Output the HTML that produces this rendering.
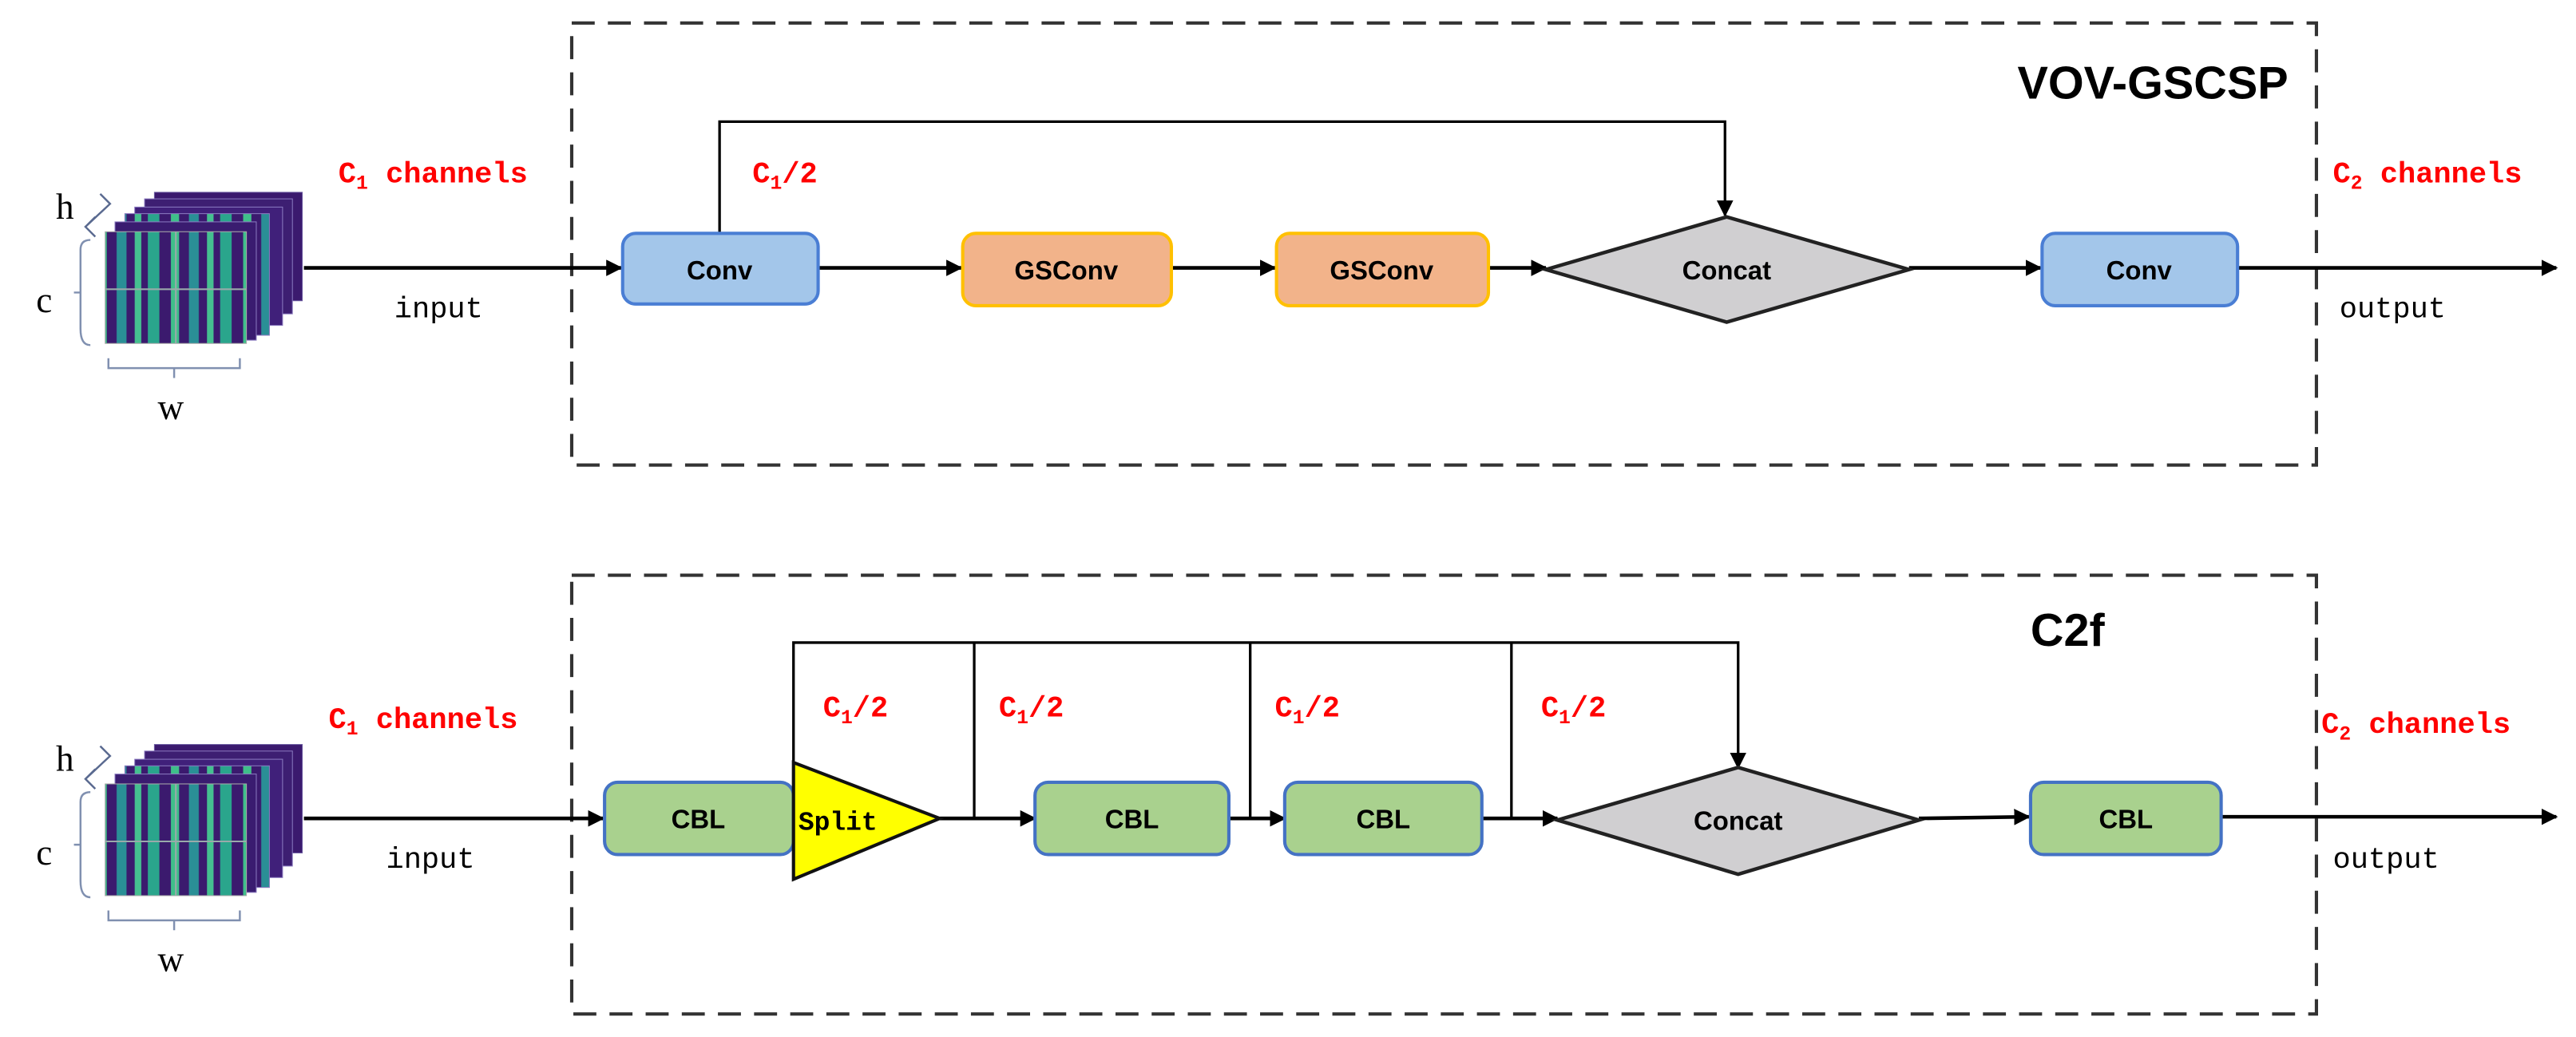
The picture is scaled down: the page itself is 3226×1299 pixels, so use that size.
<!DOCTYPE html>
<html><head><meta charset="utf-8"><style>
html,body{margin:0;padding:0;background:#fff;width:3226px;height:1299px;overflow:hidden}
svg{display:block}
.lab{font-family:"Liberation Mono",monospace;font-weight:bold;fill:#f00;font-size:18px}
.io{font-family:"Liberation Mono",monospace;fill:#000;font-size:18px}
.bx{font-family:"Liberation Sans",sans-serif;font-weight:bold;font-size:16px;fill:#000;text-anchor:middle}
.dim{font-family:"Liberation Serif",serif;font-size:22px;fill:#000}
</style></head><body>
<svg width="3226" height="1299" viewBox="0 0 1568 631" preserveAspectRatio="none" xmlns="http://www.w3.org/2000/svg">
<defs>
<marker id="ar" markerWidth="10" markerHeight="10" refX="9" refY="5" orient="auto" markerUnits="userSpaceOnUse"><path d="M0,0 L10,5 L0,10 z" fill="#000"/></marker>
<pattern id="st" width="44" height="10" patternUnits="userSpaceOnUse">
<rect width="44" height="10" fill="#3b1a6e"/>
<rect x="2" width="7" height="10" fill="#2aa58c"/>
<rect x="16" width="5" height="10" fill="#3fbf8a"/>
<rect x="27" width="6" height="10" fill="#2a8f96"/>
<rect x="38" width="4" height="10" fill="#45c090"/>
</pattern>
<g id="cube">
<rect x="94" y="117" width="90" height="66" fill="#3b1a6e" stroke="#6a5aa0" stroke-width="0.5"/>
<rect x="88" y="121" width="90" height="70" fill="#3d1f72" stroke="#8a7ac0" stroke-width="0.5"/>
<rect x="82" y="126" width="90" height="72" fill="#40207a" stroke="#8a7ac0" stroke-width="0.5"/>
<rect x="76" y="130" width="88" height="74" fill="url(#st)" stroke="#8a7ac0" stroke-width="0.5"/>
<rect x="70" y="135" width="86" height="72" fill="#3a1c70" stroke="#8a7ac0" stroke-width="0.5"/>
<rect x="64" y="141" width="86" height="68" fill="url(#st)" stroke="#aaa" stroke-width="0.5"/>
<line x1="64" y1="176" x2="150" y2="176" stroke="#9aa" stroke-width="1"/>
<line x1="107" y1="141" x2="107" y2="209" stroke="#9aa" stroke-width="1"/>
<path d="M58,144 L52,138 L67,124 L61,118 M52,138 L58,132" fill="none" stroke="#5a6a90" stroke-width="1.2"/>
<path d="M55,146 Q49,146 49,152 L49,200 Q49,210 55,210 M49,178 L45,178" fill="none" stroke="#8090b0" stroke-width="1.2"/>
<path d="M66,218 L66,224 L146,224 L146,218 M106,224 L106,230" fill="none" stroke="#8090b0" stroke-width="1.2"/>
<text x="34" y="133" class="dim">h</text>
<text x="22" y="190" class="dim">c</text>
<text x="96" y="255" class="dim">w</text>
</g>
</defs>
<g fill="none" stroke="#333" stroke-width="2" stroke-dasharray="14,8">
<rect x="348" y="14" width="1062" height="269"/>
<rect x="348" y="350" width="1062" height="267"/>
</g>
<!-- TOP -->
<use href="#cube"/>
<text x="1228" y="60" font-family="Liberation Sans,sans-serif" font-weight="bold" font-size="28" fill="#000">VOV-GSCSP</text>
<text x="206" y="111" class="lab">C<tspan font-size="12" dy="4">1</tspan><tspan dy="-4"> channels</tspan></text>
<text x="458" y="111" class="lab">C<tspan font-size="12" dy="4">1</tspan><tspan dy="-4">/2</tspan></text>
<text x="1420" y="111" class="lab">C<tspan font-size="12" dy="4">2</tspan><tspan dy="-4"> channels</tspan></text>
<text x="240" y="193" class="io">input</text>
<text x="1424" y="193" class="io">output</text>
<g stroke="#000" stroke-width="2.2" fill="none">
<line x1="185" y1="163" x2="378" y2="163" marker-end="url(#ar)"/>
<polyline points="438,142 438,74 1050,74 1050,131" stroke-width="1.6" marker-end="url(#ar)"/>
<line x1="498" y1="163" x2="585" y2="163" marker-end="url(#ar)"/>
<line x1="713" y1="163" x2="776" y2="163" marker-end="url(#ar)"/>
<line x1="906" y1="163" x2="941" y2="163" marker-end="url(#ar)"/>
<line x1="1162" y1="163" x2="1242" y2="163" marker-end="url(#ar)"/>
<line x1="1362" y1="163" x2="1556" y2="163" marker-end="url(#ar)"/>
</g>
<rect x="379" y="142" width="119" height="43" rx="8" fill="#a3c6ea" stroke="#4a7ed4" stroke-width="2"/>
<text x="438" y="170" class="bx">Conv</text>
<rect x="586" y="142" width="127" height="44" rx="8" fill="#f2b38a" stroke="#ffc000" stroke-width="2"/>
<text x="649" y="170" class="bx">GSConv</text>
<rect x="777" y="142" width="129" height="44" rx="8" fill="#f2b38a" stroke="#ffc000" stroke-width="2"/>
<text x="841" y="170" class="bx">GSConv</text>
<polygon points="941,164 1051,132 1162,164 1051,196" fill="#d0cfd1" stroke="#222" stroke-width="2.2"/>
<text x="1051" y="170" class="bx">Concat</text>
<rect x="1243" y="142" width="119" height="44" rx="8" fill="#a3c6ea" stroke="#4a7ed4" stroke-width="2"/>
<text x="1302" y="170" class="bx">Conv</text>
<!-- BOTTOM -->
<use href="#cube" y="336"/>
<text x="1236" y="393" font-family="Liberation Sans,sans-serif" font-weight="bold" font-size="28" fill="#000">C2f</text>
<text x="200" y="443" class="lab">C<tspan font-size="12" dy="4">1</tspan><tspan dy="-4"> channels</tspan></text>
<text x="501" y="436" class="lab">C<tspan font-size="12" dy="4">1</tspan><tspan dy="-4">/2</tspan></text>
<text x="608" y="436" class="lab">C<tspan font-size="12" dy="4">1</tspan><tspan dy="-4">/2</tspan></text>
<text x="776" y="436" class="lab">C<tspan font-size="12" dy="4">1</tspan><tspan dy="-4">/2</tspan></text>
<text x="938" y="436" class="lab">C<tspan font-size="12" dy="4">1</tspan><tspan dy="-4">/2</tspan></text>
<text x="1413" y="446" class="lab">C<tspan font-size="12" dy="4">2</tspan><tspan dy="-4"> channels</tspan></text>
<text x="235" y="528" class="io">input</text>
<text x="1420" y="528" class="io">output</text>
<g stroke="#000" stroke-width="2.2" fill="none">
<line x1="185" y1="498" x2="367" y2="498" marker-end="url(#ar)"/>
<polyline points="483,464 483,391 1058,391 1058,467" stroke-width="1.6" marker-end="url(#ar)"/>
<line x1="593" y1="391" x2="593" y2="498" stroke-width="1.6"/>
<line x1="761" y1="391" x2="761" y2="498" stroke-width="1.6"/>
<line x1="920" y1="391" x2="920" y2="498" stroke-width="1.6"/>
<line x1="572" y1="498" x2="630" y2="498" marker-end="url(#ar)"/>
<line x1="748" y1="498" x2="782" y2="498" marker-end="url(#ar)"/>
<line x1="902" y1="498" x2="948" y2="498" marker-end="url(#ar)"/>
<line x1="1168" y1="498" x2="1235" y2="497" marker-end="url(#ar)"/>
<line x1="1352" y1="497" x2="1556" y2="497" marker-end="url(#ar)"/>
</g>
<rect x="368" y="476" width="115" height="44" rx="8" fill="#a9d18e" stroke="#4472c4" stroke-width="2"/>
<text x="425" y="504" class="bx">CBL</text>
<polygon points="483,464 572,498 483,535" fill="#ffff00" stroke="#111" stroke-width="2"/>
<text x="486" y="505" font-family="Liberation Mono,monospace" font-weight="bold" font-size="16" fill="#000">Split</text>
<rect x="630" y="476" width="118" height="44" rx="8" fill="#a9d18e" stroke="#4472c4" stroke-width="2"/>
<text x="689" y="504" class="bx">CBL</text>
<rect x="782" y="476" width="120" height="44" rx="8" fill="#a9d18e" stroke="#4472c4" stroke-width="2"/>
<text x="842" y="504" class="bx">CBL</text>
<polygon points="948,499 1058,467 1168,499 1058,532" fill="#d0cfd1" stroke="#222" stroke-width="2.2"/>
<text x="1058" y="505" class="bx">Concat</text>
<rect x="1236" y="476" width="116" height="44" rx="8" fill="#a9d18e" stroke="#4472c4" stroke-width="2"/>
<text x="1294" y="504" class="bx">CBL</text>
</svg>
</body></html>
